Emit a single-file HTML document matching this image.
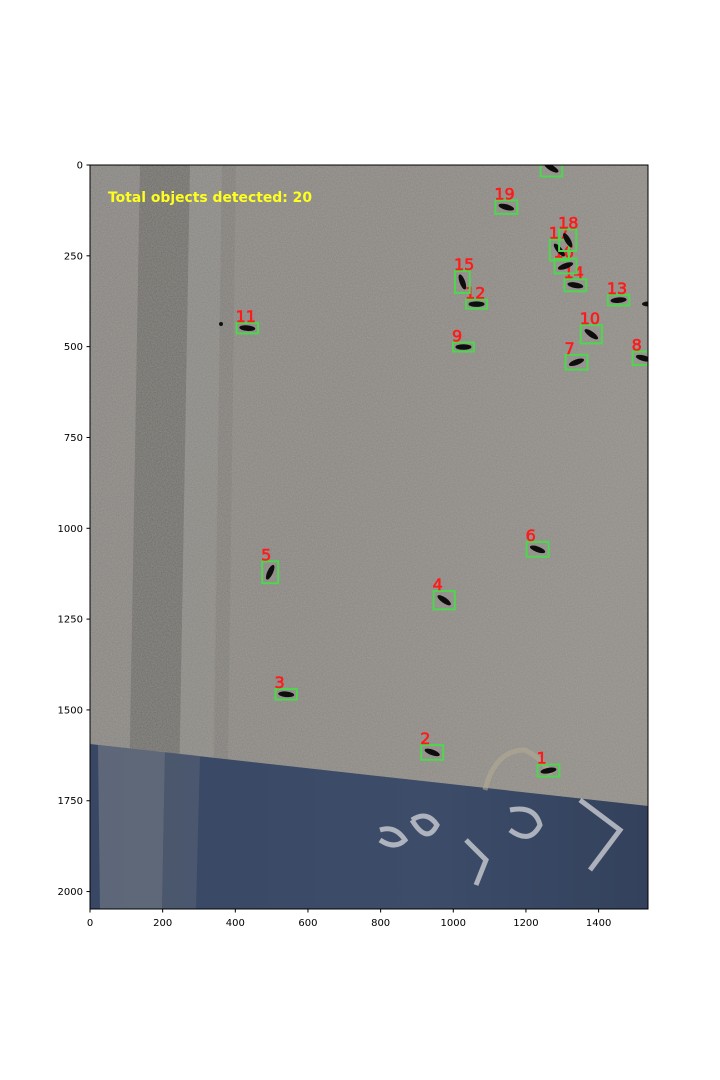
<!DOCTYPE html>
<html><head><meta charset="utf-8"><style>
html,body{margin:0;padding:0;background:#fff;}
svg{display:block;font-family:"DejaVu Sans","Liberation Sans",sans-serif;}
</style></head><body>
<svg id="chart" width="720" height="1080" viewBox="0 0 720 1080" xmlns="http://www.w3.org/2000/svg">
<defs>
<linearGradient id="metal" x1="0" y1="0" x2="1" y2="0.3">
<stop offset="0" stop-color="#86837e"/><stop offset="0.5" stop-color="#88847f"/><stop offset="1" stop-color="#8f8b84"/>
</linearGradient>
<linearGradient id="blue" x1="0" y1="0" x2="1" y2="0">
<stop offset="0" stop-color="#384864"/><stop offset="0.6" stop-color="#3c4c69"/><stop offset="1" stop-color="#33415c"/>
</linearGradient>
<filter id="noise"><feTurbulence type="fractalNoise" baseFrequency="0.8" numOctaves="2" seed="3"/><feColorMatrix values="0 0 0 0 0.5  0 0 0 0 0.5  0 0 0 0 0.5  0 0 0 0.55 0"/></filter>
<clipPath id="imgclip"><rect x="90" y="165" width="558" height="744"/></clipPath>
</defs>
<g id="image" clip-path="url(#imgclip)">
<rect x="90" y="165" width="558" height="744" fill="url(#metal)"/>
<polygon points="140,165 190,165 177,909 127,909" fill="#66645f" opacity="0.75"/>
<polygon points="190,165 222,165 210,909 177,909" fill="#8c8984" opacity="0.5"/>
<polygon points="222,165 236,165 226,909 212,909" fill="#74716c" opacity="0.4"/>
<rect x="90" y="165" width="558" height="744" filter="url(#noise)" opacity="0.8"/>
<polygon points="90,744 648,806 648,909 90,909" fill="url(#blue)"/>
<polygon points="98,745 165,752 162,909 100,909" fill="#7d818a" opacity="0.55"/>
<polygon points="165,752 200,756 196,909 162,909" fill="#5a6274" opacity="0.55"/>
<g fill="none" stroke="#d4d6da" stroke-width="5" opacity="0.75">
<path d="M380,830 q15,-5 25,10 q-10,10 -25,0"/>
<path d="M412,820 q15,-10 25,5 q-10,20 -25,-5"/>
<path d="M466,840 l20,20 l-10,25"/>
<path d="M510,810 q25,-5 30,15 q-10,20 -30,5"/>
<path d="M580,800 l40,30 l-30,40"/>
</g>
<path d="M485,790 q10,-40 40,-40 q20,10 25,25" fill="none" stroke="#b3aa93" stroke-width="5" opacity="0.6"/>
<text x="108" y="202" fill="#ffff1e" font-size="14" font-weight="bold" textLength="204" lengthAdjust="spacingAndGlyphs">Total objects detected: 20</text>
<circle cx="221" cy="324" r="2" fill="#111"/>
<ellipse cx="648" cy="304" rx="6" ry="2.5" fill="#111"/>
<g id="objects"></g>
</g>
<rect x="90" y="165" width="558" height="744" fill="none" stroke="#000" stroke-width="1"/>
<g id="xticks"></g>
<g id="yticks"></g>
</svg>
<script>
const xTicks = [0, 200, 400, 600, 800, 1000, 1200, 1400];
const yTicks = [0, 250, 500, 750, 1000, 1250, 1500, 1750, 2000];
const objLabels = ["1","2","3","4","5","6","7","8","9","10","11","12","13","14","15","16","17","18","19",""];
const objX = [1262, 942, 540, 975, 496, 1232, 1339, 1524, 1028, 1380, 433, 1064, 1455, 1336, 1025, 1309, 1292, 1315, 1146, 1270];
const objY = [1667, 1617, 1457, 1198, 1121, 1058, 543, 532, 501, 466, 449, 383, 372, 331, 322, 278, 234, 207, 116, 8];
const objAngle = [-10, 20, 5, 35, -65, 20, -20, 15, 0, 35, 5, 0, -5, 10, 70, -20, 50, 60, 15, 30];
const X0=90, Y0=165, S=558/1536;
const xs = v => X0 + v*S;
const ys = v => Y0 + v*S;
const NS="http://www.w3.org/2000/svg";
const objG=document.getElementById('objects');
objX.forEach((v,i)=>{
  const cx=xs(v), cy=ys(objY[i]);
  const a=objAngle[i]*Math.PI/180;
  const hw=Math.abs(9*Math.cos(a))+Math.abs(3*Math.sin(a))+1.5;
  const hh=Math.abs(9*Math.sin(a))+Math.abs(3*Math.cos(a))+1.5;
  const g=document.createElementNS(NS,'g');
  
  
  const e=document.createElementNS(NS,'ellipse');
  e.setAttribute('cx',cx);e.setAttribute('cy',cy);e.setAttribute('rx',8);e.setAttribute('ry',2.8);
  e.setAttribute('fill','#0d0d0d');e.setAttribute('transform',`rotate(${objAngle[i]} ${cx} ${cy})`);
  
  
  g.appendChild(e);
  const r=document.createElementNS(NS,'rect');
  r.setAttribute('x',cx-hw);r.setAttribute('y',cy-hh);r.setAttribute('width',2*hw);r.setAttribute('height',2*hh);
  r.setAttribute('fill','none');r.setAttribute('stroke','#4ed64e');r.setAttribute('stroke-width',2);
  
  
  g.appendChild(r);
  if(objLabels[i]){
    const t=document.createElementNS(NS,'text');
    t.setAttribute('x',cx-hw-1);t.setAttribute('y',cy-hh-1);
    t.setAttribute('fill','#ff1a1a');t.setAttribute('font-size','16');t.setAttribute('stroke','#ff1a1a');t.setAttribute('stroke-width','0.6');
    t.textContent=objLabels[i];
    
    
    g.appendChild(t);
  }
  objG.appendChild(g);
});
const xg=document.getElementById('xticks');
xTicks.forEach(v=>{
  const x=xs(v);
  const l=document.createElementNS(NS,'line');
  l.setAttribute('x1',x);l.setAttribute('x2',x);l.setAttribute('y1',909);l.setAttribute('y2',912.5);l.setAttribute('stroke','#000');
  
  
  xg.appendChild(l);
  const t=document.createElementNS(NS,'text');
  t.setAttribute('x',x);t.setAttribute('y',926);t.setAttribute('text-anchor','middle');t.setAttribute('font-size','10');
  t.textContent=v;
  
  
  xg.appendChild(t);
});
const yg=document.getElementById('yticks');
yTicks.forEach(v=>{
  const y=ys(v);
  const l=document.createElementNS(NS,'line');
  l.setAttribute('x1',86.5);l.setAttribute('x2',90);l.setAttribute('y1',y);l.setAttribute('y2',y);l.setAttribute('stroke','#000');
  
  
  yg.appendChild(l);
  const t=document.createElementNS(NS,'text');
  t.setAttribute('x',83);t.setAttribute('y',y+3.5);t.setAttribute('text-anchor','end');t.setAttribute('font-size','10');
  t.textContent=v;
  
  
  yg.appendChild(t);
});
</script>
</body></html>
